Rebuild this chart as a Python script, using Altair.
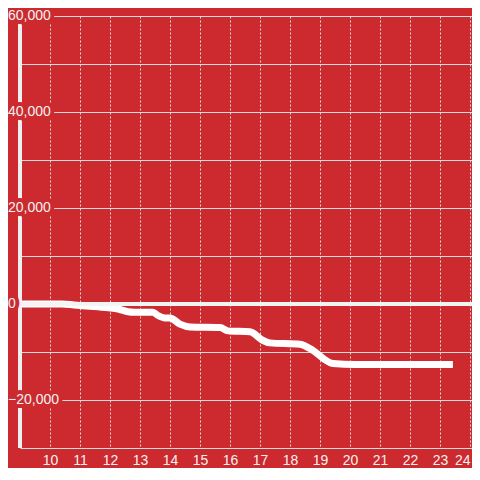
import altair as alt
import pandas as pd

# hour of day (x) and running value (y)
hours = [9.0, 10.4, 10.8, 11.2, 11.6, 12.1, 12.3, 12.6, 12.8, 13.43, 13.6, 13.83,
         14.0, 14.33, 14.67, 15.67, 15.93, 16.67, 17.07, 17.33, 18.33, 18.67,
         19.43, 20.17, 23.43]
values = [0, 0, -200, -400, -600, -900, -1100, -1600, -1700, -1700, -2400, -2900,
          -2900, -4200, -4800, -4900, -5600, -5800, -7500, -8100, -8400, -9300,
          -12400, -12600, -12600]

x_ticks = list(range(10, 25))
y_grid = list(range(-30000, 60001, 10000))
y_labels = [-20000, 0, 20000, 40000, 60000]

BG = "#cc2a2f"
GRID = "#dcdcdc"
FONT = "Liberation Sans"

df = pd.DataFrame({"h": hours, "value": values})
lab = pd.DataFrame({"v": y_labels})

xscale = alt.Scale(domain=[9, 24.0667], nice=False, zero=False)
yscale = alt.Scale(domain=[-30000, 60000], nice=False)

xaxis = alt.Axis(values=x_ticks, grid=True, gridDash=[2, 2], gridColor=GRID,
                 gridWidth=1, ticks=False, domain=False, labelFontSize=14,
                 labelFont=FONT, labelColor="#f2f2f2", labelPadding=5,
                 labelFlush=4, labelOverlap=False, title=None)
yaxis = alt.Axis(values=y_grid, grid=True, gridColor=GRID, gridWidth=1,
                 ticks=False, domain=False, labels=False, title=None)

line = alt.Chart(df).mark_line(
    color="#ffffff", strokeWidth=7, interpolate="monotone", strokeCap="butt"
).encode(
    x=alt.X("h:Q", scale=xscale, axis=xaxis),
    y=alt.Y("value:Q", scale=yscale, axis=yaxis),
)

zero = alt.Chart(df).mark_rule(color="#f4f4f4", strokeWidth=3).encode(
    y=alt.Y(datum=0, scale=yscale, axis=yaxis)
)

yaxis_line = alt.Chart(df).mark_rule(color="#f0f0f0", strokeWidth=3).encode(
    x=alt.X(datum=9, scale=xscale, axis=xaxis)
)

halo = alt.Chart(lab).mark_text(
    align="left", baseline="middle", fontSize=14, font=FONT,
    fill=BG, stroke=BG, strokeWidth=8, strokeJoin="round"
).encode(
    x=alt.value(-12),
    y=alt.Y("v:Q", scale=yscale, axis=yaxis),
    text=alt.Text("v:Q", format=","),
)

labels = alt.Chart(lab).mark_text(
    align="left", baseline="middle", fontSize=14, font=FONT, color="#f2f2f2"
).encode(
    x=alt.value(-12),
    y=alt.Y("v:Q", scale=yscale, axis=yaxis),
    text=alt.Text("v:Q", format=","),
)

chart = alt.layer(line, zero, yaxis_line, halo, labels).properties(
    width=452, height=432, background=BG,
    autosize=alt.AutoSizeParams(type="none"),
    padding={"left": 12, "top": 8, "right": 0, "bottom": 20},
).configure_view(stroke=None)

chart.save("out.html", embed_options={"renderer": "svg", "actions": False})
